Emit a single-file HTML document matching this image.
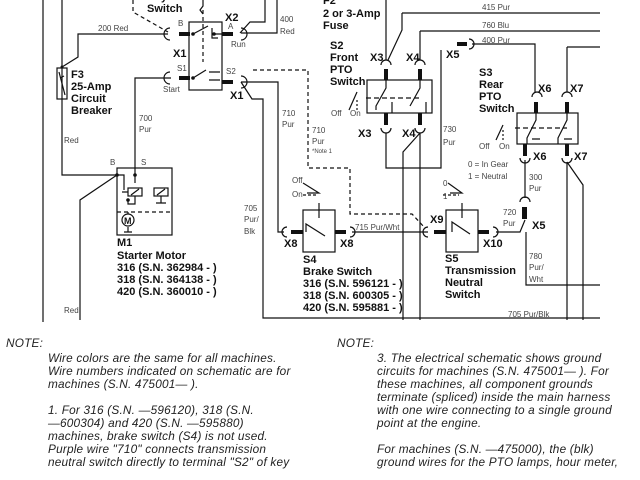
<!DOCTYPE html>
<html><head><style>
body{margin:0;background:#fff;width:640px;height:480px;overflow:hidden}
svg{display:block}
.l{font-family:"Liberation Sans",sans-serif;font-size:8px;fill:#444}
.b{font-family:"Liberation Sans",sans-serif;font-size:11px;font-weight:bold;fill:#111}
.n{font-family:"Liberation Sans",sans-serif;font-size:11.8px;font-style:italic;fill:#222;letter-spacing:0.2px}
</style></head><body>
<svg width="640" height="480" viewBox="0 0 640 480" xmlns="http://www.w3.org/2000/svg">
<g fill="none" stroke="#111" stroke-width="1.2">
<path d="M43 0V322"/>
<path d="M62 0V175H117"/>
<path d="M62 67L78 57V34H168"/>
<rect x="57" y="68" width="10" height="31"/>
<path d="M59 72L65 95M60 78L64 76"/>
<rect x="189" y="22" width="33" height="68"/>
<path d="M203 10V62" stroke-dasharray="4,3"/>
<path d="M133 0V12L168 32" stroke-dasharray="4,3"/>
<path d="M203 0V6L200 10L203 14"/>
<path d="M193 34L208 26M213 34H222M212 28V38H218" />
<path d="M193 78L206 70M209 72H220M209 80H220"/>
<path d="M170 28a6 6 0 0 0 0 12M241 28a6 6 0 0 1 0 12M170 72a6 6 0 0 0 0 12M241 76a6 6 0 0 1 0 12"/>
<path d="M240 33L250 22H265V0M241 33H277V0"/>
<path d="M171 78H135V175"/>
<path d="M241 82H278V232H284"/>
<path d="M241 82L252 99H263V318H600"/>
<path d="M253 70H308V168H350V214H412L425 228" stroke-dasharray="4,3"/>
<rect x="117" y="168" width="55" height="67"/>
<path d="M117 212H172" stroke-dasharray="4,3"/>
<circle cx="128" cy="220" r="6"/>
<path d="M117 175L80 200V320"/>
<path d="M117 175H124V190M135 175V183"/>
<rect x="128" y="188" width="14" height="8"/><rect x="154" y="188" width="14" height="8"/>
<path d="M122 192H128M131 195L139 189M157 195L165 189M161 196V203M156 203H166M128 200V204H135V196M128 212V214M128 227V232M124 232H132"/>
<rect x="303" y="210" width="32" height="42"/>
<path d="M287 227a5 5 0 0 0 0 10M350 227a5 5 0 0 1 0 10M352 232H428M428 227a5 5 0 0 0 0 10"/>
<path d="M306 232V224L325 236M319 203V218"/>
<path d="M303 183L319 193H307" /><path d="M303 195H316" stroke-dasharray="3,2"/>
<rect x="446" y="210" width="32" height="42"/>
<path d="M452 232V222L470 234M462 203V218"/>
<path d="M448 183L462 193H450"/><path d="M443 195H459" stroke-dasharray="3,2"/>
<path d="M493 227a5 5 0 0 1 0 10M496 232H520L525 220"/>
<path d="M520 202a5 5 0 0 1 10 0M525 160V198"/>
<path d="M526 232V285H600"/>
<path d="M386 0V60M402 13H600M402 13V30L388 60M420 31H600M420 31V60"/>
<rect x="367" y="80" width="65" height="33"/>
<path d="M381 65a5 5 0 0 1 10 0M415 65a5 5 0 0 1 10 0M381 128a5 5 0 0 0 10 0M415 128a5 5 0 0 0 10 0"/>
<path d="M386 80V88L376 106V110M420 80V88L410 106M392 113V102M426 113V102"/>
<path d="M366 98H420" stroke-dasharray="5,3"/>
<path d="M349 110L357 92" /><path d="M357 100V110" stroke-dasharray="2,2"/>
<path d="M386 133V168H441V50M420 133L403 152V320M420 133V320"/>
<path d="M469 39a5 5 0 0 1 0 10M472 44H535V92M567 47H600M567 47V92"/>
<rect x="517" y="113" width="61" height="31"/>
<path d="M532 97a5 5 0 0 1 10 0M562 97a5 5 0 0 1 10 0M520 158a5 5 0 0 0 10 0M562 158a5 5 0 0 0 10 0"/>
<path d="M536 113V120L527 138V144M567 113V120L558 138V144M532 139H540M564 139H572"/>
<path d="M515 128H567" stroke-dasharray="5,3"/>
<path d="M496 140L503 125" /><path d="M503 130V140" stroke-dasharray="2,2"/>
<path d="M567 162L583 185V320M567 162V320"/>
</g>
<g fill="#111">
<rect x="179" y="32" width="11" height="4"/><rect x="222" y="32" width="11" height="4"/>
<rect x="179" y="76" width="11" height="4"/><rect x="222" y="80" width="11" height="4"/>
<circle cx="62" cy="67" r="1.5"/><circle cx="193" cy="34" r="1.8"/><circle cx="214" cy="34" r="1.8"/><circle cx="193" cy="78" r="1.8"/>
<circle cx="117" cy="175" r="1.8"/><circle cx="135" cy="175" r="1.8"/><circle cx="128" cy="200" r="1.8"/>
<rect x="291" y="230" width="12" height="4"/><rect x="335" y="230" width="11" height="4"/>
<rect x="434" y="230" width="12" height="4"/><rect x="478" y="230" width="11" height="4"/>
<rect x="522" y="207" width="5" height="12"/>
<rect x="384" y="69" width="4" height="11"/><rect x="418" y="69" width="4" height="11"/>
<rect x="384" y="113" width="4" height="12"/><rect x="418" y="113" width="4" height="12"/>
<rect x="457" y="42" width="10" height="4"/>
<rect x="534" y="102" width="4" height="11"/><rect x="565" y="102" width="4" height="11"/>
<rect x="523" y="144" width="4" height="12"/><rect x="565" y="144" width="4" height="12"/>
</g>
<text class="b" x="147" y="0">Key</text>
<text class="b" x="147" y="12">Switch</text>
<text class="b" x="225" y="21">X2</text><text class="b" x="173" y="57">X1</text><text class="b" x="230" y="99">X1</text>
<text class="l" x="98" y="31">200 Red</text><text class="l" x="178" y="26">B</text><text class="l" x="228" y="29">A</text>
<text class="l" x="231" y="47">Run</text><text class="l" x="177" y="71">S1</text><text class="l" x="163" y="92">Start</text>
<text class="l" x="226" y="74">S2</text><text class="l" x="280" y="22">400</text><text class="l" x="280" y="34">Red</text>
<text class="b" x="71" y="78">F3</text><text class="b" x="71" y="90">25-Amp</text><text class="b" x="71" y="102">Circuit</text><text class="b" x="71" y="114">Breaker</text>
<text class="l" x="64" y="143">Red</text><text class="l" x="64" y="313">Red</text>
<text class="l" x="139" y="121">700</text><text class="l" x="139" y="132">Pur</text>
<text class="l" x="282" y="116">710</text><text class="l" x="282" y="127">Pur</text>
<text class="l" x="312" y="133">710</text><text class="l" x="312" y="144">Pur</text><text class="l" x="312" y="153" style="font-size:6px">*Note 1</text>
<text class="l" x="110" y="165">B</text><text class="l" x="141" y="165">S</text>
<text class="b" x="124" y="224" style="font-size:9px">M</text>
<text class="b" x="117" y="246">M1</text><text class="b" x="117" y="259">Starter Motor</text>
<text class="b" x="117" y="271">316 (S.N. 362984 - )</text><text class="b" x="117" y="283">318 (S.N. 364138 - )</text><text class="b" x="117" y="295">420 (S.N. 360010 - )</text>
<text class="l" x="244" y="211">705</text><text class="l" x="244" y="222">Pur/</text><text class="l" x="244" y="234">Blk</text>
<text class="l" x="292" y="183">Off</text><text class="l" x="292" y="197">On</text>
<text class="b" x="284" y="247">X8</text><text class="b" x="340" y="247">X8</text>
<text class="l" x="355" y="230">715 Pur/Wht</text>
<text class="b" x="303" y="263">S4</text><text class="b" x="303" y="275">Brake Switch</text>
<text class="b" x="303" y="287">316 (S.N. 596121 - )</text><text class="b" x="303" y="299">318 (S.N. 600305 - )</text><text class="b" x="303" y="311">420 (S.N. 595881 - )</text>
<text class="b" x="430" y="223">X9</text><text class="b" x="483" y="247">X10</text>
<text class="l" x="443" y="186">0</text><text class="l" x="443" y="199">1</text>
<text class="b" x="445" y="262">S5</text><text class="b" x="445" y="274">Transmission</text><text class="b" x="445" y="286">Neutral</text><text class="b" x="445" y="298">Switch</text>
<text class="l" x="503" y="215">720</text><text class="l" x="503" y="226">Pur</text><text class="b" x="532" y="229">X5</text>
<text class="l" x="529" y="180">300</text><text class="l" x="529" y="191">Pur</text>
<text class="l" x="529" y="259">780</text><text class="l" x="529" y="270">Pur/</text><text class="l" x="529" y="282">Wht</text>
<text class="l" x="508" y="317">705 Pur/Blk</text>
<text class="l" x="468" y="167">0 = In Gear</text><text class="l" x="468" y="179">1 = Neutral</text>
<text class="b" x="323" y="4">F2</text><text class="b" x="323" y="17">2 or 3-Amp</text><text class="b" x="323" y="29">Fuse</text>
<text class="b" x="330" y="49">S2</text><text class="b" x="330" y="61">Front</text><text class="b" x="330" y="73">PTO</text><text class="b" x="330" y="85">Switch</text>
<text class="l" x="331" y="116">Off</text><text class="l" x="350" y="116">On</text>
<text class="l" x="482" y="10">415 Pur</text><text class="l" x="482" y="28">760 Blu</text><text class="l" x="482" y="43">400 Pur</text>
<text class="b" x="370" y="61">X3</text><text class="b" x="406" y="61">X4</text><text class="b" x="446" y="58">X5</text>
<text class="b" x="358" y="137">X3</text><text class="b" x="402" y="137">X4</text>
<text class="l" x="443" y="132">730</text><text class="l" x="443" y="145">Pur</text>
<text class="b" x="479" y="76">S3</text><text class="b" x="479" y="88">Rear</text><text class="b" x="479" y="100">PTO</text><text class="b" x="479" y="112">Switch</text>
<text class="b" x="538" y="92">X6</text><text class="b" x="570" y="92">X7</text>
<text class="b" x="533" y="160">X6</text><text class="b" x="574" y="160">X7</text>
<text class="l" x="479" y="149">Off</text><text class="l" x="499" y="149">On</text>
<text class="n" x="6" y="347">NOTE:</text>
<text class="n" x="48" y="362">Wire colors are the same for all machines.</text>
<text class="n" x="48" y="375">Wire numbers indicated on schematic are for</text>
<text class="n" x="48" y="388">machines (S.N. 475001—   ).</text>
<text class="n" x="48" y="414">1. For 316 (S.N.   —596120), 318 (S.N.</text>
<text class="n" x="48" y="427"> —600304) and 420 (S.N.   —595880)</text>
<text class="n" x="48" y="440">machines, brake switch (S4) is not used.</text>
<text class="n" x="48" y="453">Purple wire "710" connects transmission</text>
<text class="n" x="48" y="466">neutral switch directly to terminal "S2" of key</text>
<text class="n" x="337" y="347">NOTE:</text>
<text class="n" x="377" y="362">3. The electrical schematic shows ground</text>
<text class="n" x="377" y="375">circuits for machines (S.N. 475001—   ). For</text>
<text class="n" x="377" y="388">these machines, all component grounds</text>
<text class="n" x="377" y="401">terminate (spliced) inside the main harness</text>
<text class="n" x="377" y="414">with one wire connecting to a single ground</text>
<text class="n" x="377" y="427">point at the engine.</text>
<text class="n" x="377" y="453">For machines (S.N.   —475000), the (blk)</text>
<text class="n" x="377" y="466">ground wires for the PTO lamps, hour meter,</text>
</svg>
</body></html>
